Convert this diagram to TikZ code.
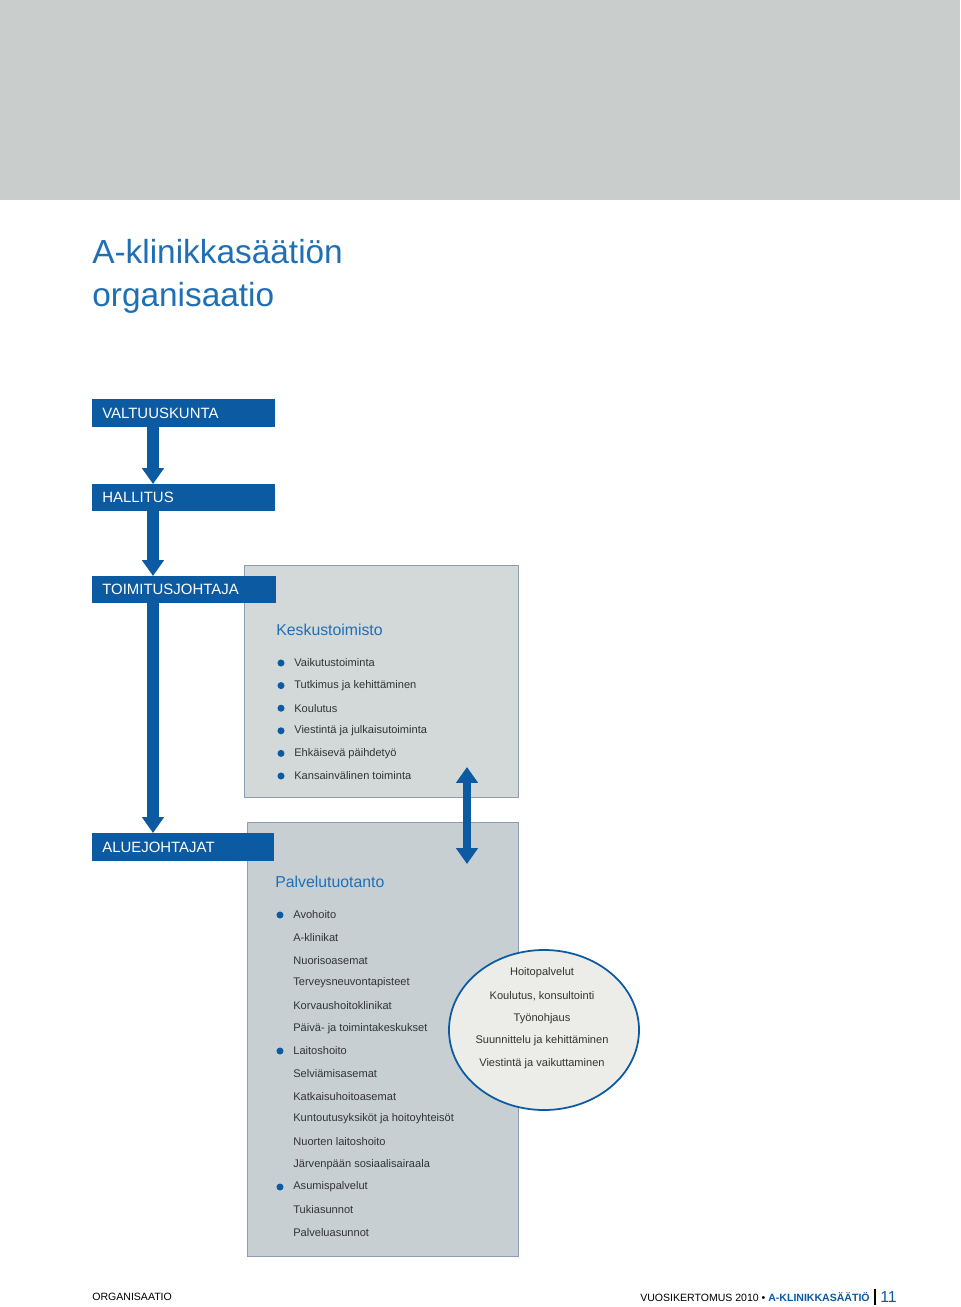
\documentclass[tikz,border=0pt]{standalone}
\usepackage{fontspec}
\setmainfont{Liberation Sans}
\usetikzlibrary{arrows.meta}
\definecolor{ablue}{HTML}{0B5AA2}
\definecolor{tblue}{HTML}{1F6FB5}
\definecolor{topgrey}{HTML}{C9CDCB}
\definecolor{box1}{HTML}{D3D9D9}
\definecolor{box2}{HTML}{C8CFD3}
\definecolor{boxline}{HTML}{8E9CB0}
\definecolor{ellf}{HTML}{ECEDE9}
\definecolor{txt}{HTML}{333333}
\begin{document}
\begin{tikzpicture}[x=0.02cm,y=-0.02cm,
  bar/.style={fill=ablue,draw=none},
  barlbl/.style={anchor=west,text=white,font=\fontsize{8.5}{10}\selectfont,inner sep=0},
  item/.style={anchor=west,text=txt,font=\fontsize{6.3}{7}\selectfont,inner sep=0},
  dot/.style={circle,fill=ablue,inner sep=0,minimum size=4pt},
  head/.style={anchor=west,text=tblue,font=\fontsize{9}{10}\selectfont,inner sep=0},
  varrow/.style={draw=ablue,line width=7pt,-{Triangle[width=12pt,length=9pt]}},
  darrow/.style={draw=ablue,line width=5pt,{Triangle[width=12pt,length=9pt]}-{Triangle[width=12pt,length=9pt]}}]
\useasboundingbox (0,0) rectangle (960,1307);
\fill[white] (0,0) rectangle (960,1307);
\fill[topgrey] (0,0) rectangle (960,200);
\node[anchor=west,text=tblue,font=\fontsize{19}{22}\selectfont,inner sep=0] (t1) at (92,252) {A-klinikkasäätiön};
\node[anchor=west,text=tblue,font=\fontsize{19}{22}\selectfont,inner sep=0] (t2) at (92,298) {organisaatio};
% boxes
\fill[box1,draw=boxline] (244,565) rectangle (518,797);
\fill[box2,draw=boxline] (247,822) rectangle (518,1256);
% bars
\fill[bar] (92,399) rectangle (275,427);
\node[barlbl] (v) at (102,413) {VALTUUSKUNTA};
\fill[bar] (92,484) rectangle (275,511);
\node[barlbl] (h) at (102,497) {HALLITUS};
\fill[bar] (92,576) rectangle (276,603);
\node[barlbl] (tj) at (102,589) {TOIMITUSJOHTAJA};
\fill[bar] (92,833) rectangle (274,861);
\node[barlbl] (aj) at (102,847) {ALUEJOHTAJAT};
\coordinate (a1) at (153,427); \coordinate (a1e) at (153,484);
\coordinate (a2) at (153,511); \coordinate (a2e) at (153,576);
\coordinate (a3) at (153,603); \coordinate (a3e) at (153,833);
\draw[varrow] (a1) -- (a1e);
\draw[varrow] (a2) -- (a2e);
\draw[varrow] (a3) -- (a3e);
\coordinate (d1) at (467,767); \coordinate (d2) at (467,864);
\draw[darrow] (d1) -- (d2);
% Keskustoimisto
\node[head] (k) at (276,630) {Keskustoimisto};
\foreach \t [count=\i] in {Vaikutustoiminta,Tutkimus ja kehittäminen,Koulutus,Viestintä ja julkaisutoiminta,Ehkäisevä päihdetyö,Kansainvälinen toiminta}{
  \node[dot] (kd\i) at (281,{663+(\i-1)*22.6}) {};
  \node[item] (ki\i) at (294,{663+(\i-1)*22.6}) {\t};
}
% Palvelutuotanto
\node[head] (p) at (275,882) {Palvelutuotanto};
\foreach \t [count=\i] in {Avohoito,A-klinikat,Nuorisoasemat,Terveysneuvontapisteet,Korvaushoitoklinikat,Päivä- ja toimintakeskukset,Laitoshoito,Selviämisasemat,Katkaisuhoitoasemat,Kuntoutusyksiköt ja hoitoyhteisöt,Nuorten laitoshoito,Järvenpään sosiaalisairaala,Asumispalvelut,Tukiasunnot,Palveluasunnot}{
  \node[item] (pi\i) at (293,{915+(\i-1)*22.65}) {\t};
}
\node[dot] (pd1) at (280,915) {};
\node[dot] (pd2) at (280,1051) {};
\node[dot] (pd3) at (280,1187) {};
% ellipse
\draw[fill=ellf,draw=ablue,line width=1pt] (544,1030) ellipse [x radius=95,y radius=80];
\foreach \t [count=\i] in {Hoitopalvelut,{Koulutus, konsultointi},Työnohjaus,Suunnittelu ja kehittäminen,Viestintä ja vaikuttaminen}{
  \node[anchor=center,text=txt,font=\fontsize{6.3}{7}\selectfont,inner sep=0] (e\i) at (542,{973+(\i-1)*22.7}) {\t};
}
% footer
\node[anchor=west,font=\fontsize{6}{7}\selectfont,inner sep=0] (f1) at (92,1297) {ORGANISAATIO};
\node[anchor=east,font=\fontsize{6}{7}\selectfont,inner sep=0] (f2) at (870,1297) {VUOSIKERTOMUS 2010 \textbullet\ \textcolor{ablue}{\textbf{A-KLINIKKASÄÄTIÖ}}};
\draw[black,line width=0.6pt] (875,1289) -- (875,1305);
\node[anchor=west,text=ablue,font=\fontsize{9}{10}\selectfont,inner sep=0] (f3) at (880,1297) {11};
\end{tikzpicture}
\end{document}
